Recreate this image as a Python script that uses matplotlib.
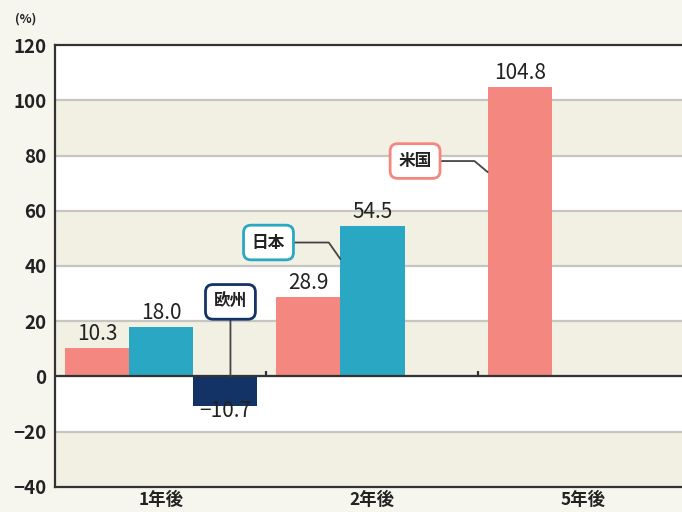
import numpy as np
import matplotlib
matplotlib.use("Agg")
import matplotlib.pyplot as plt

plt.rcParams['font.family'] = ['Noto Sans CJK JP', 'DejaVu Sans']
plt.rcParams['axes.unicode_minus'] = True

# data
groups = ['1年後', '2年後', '5年後']
series = ['米国', '日本', '欧州']
us = [10.3, 28.9, 104.8]
japan = [18.0, 54.5, np.nan]
europe = [-10.7, np.nan, np.nan]
yticks = [-40, -20, 0, 20, 40, 60, 80, 100, 120]

colors = ['#f4877f', '#2aa8c3', '#133366']
values = [us, japan, europe]

fig = plt.figure(figsize=(6.82, 5.12), dpi=100, facecolor='#f7f6ee')
ax = fig.add_axes([0.0806, 0.049, 0.93, 0.863])
ax.set_facecolor('white')

ymin, ymax = -40, 120
ax.set_ylim(ymin, ymax)
ax.set_xlim(0, 3 * len(groups))

# alternating bands
for k, (lo, hi) in enumerate(zip(yticks[:-1], yticks[1:])):
    if k % 2 == 0:
        ax.axhspan(lo, hi, color='#f2f0e3', zorder=0, lw=0)
for y in yticks[1:-1]:
    ax.axhline(y, color='#c6c6c0', lw=1.6, zorder=1)

bw = 0.91
off = 0.14
for j, vals in enumerate(values):
    for i, v in enumerate(vals):
        if np.isnan(v):
            continue
        x0 = 3 * i + off + bw * j
        ax.bar(x0, v, width=bw, align='edge', color=colors[j], zorder=2, lw=0)
        lab = ('%.1f' % v).replace('-', '\u2212')
        if v >= 0:
            ax.text(x0 + bw / 2, v + 1.0, lab, ha='center', va='bottom',
                    fontsize=15, color='#222222', zorder=5)
        else:
            ax.text(x0 + bw / 2, v + 2.0, lab, ha='center', va='top',
                    fontsize=15, color='#222222', zorder=5)

# zero line and group separators
ax.axhline(0, color='#333333', lw=1.6, zorder=4)
for i in range(1, len(groups)):
    ax.vlines(3 * i, 0, 2, color='#333333', lw=1.6, zorder=4)

# callouts
box = dict(boxstyle='round,pad=0.5,rounding_size=0.45', fc='white', lw=2)
line = dict(arrowstyle='-', color='#444444', lw=1.3, shrinkA=0, shrinkB=0)
ax.annotate('欧州', xy=(2.49, 0), xytext=(2.49, 27), ha='center', va='center',
            fontsize=12, fontweight='bold', color='#222222', zorder=6,
            bbox=dict(box, ec=colors[2]), arrowprops=line)
ax.annotate('日本', xy=(3 + off + bw, 42.5), xytext=(3.03, 48.5), ha='center', va='center',
            fontsize=12, fontweight='bold', color='#222222', zorder=6,
            bbox=dict(box, ec=colors[1]),
            arrowprops=dict(line, connectionstyle='angle,angleA=0,angleB=125,rad=0'))
ax.annotate('米国', xy=(6 + off, 74), xytext=(5.11, 78), ha='center', va='center',
            fontsize=12, fontweight='bold', color='#222222', zorder=6,
            bbox=dict(box, ec=colors[0]),
            arrowprops=dict(line, connectionstyle='angle,angleA=0,angleB=140,rad=0'))

# axes styling
ax.set_yticks(yticks)
ax.set_yticklabels([str(t).replace('-', '\u2212') for t in yticks],
                   fontsize=13.5, fontweight='bold', color='#222222')
ax.tick_params(axis='y', length=0, pad=6)
ax.set_xticks([3 * i + 1.5 for i in range(len(groups))])
ax.set_xticklabels(groups, fontsize=12.5, fontweight='bold', color='#222222')
ax.tick_params(axis='x', length=0, pad=3)
for s in ['left', 'bottom', 'top']:
    ax.spines[s].set_color('#333333')
    ax.spines[s].set_linewidth(1.6)
ax.spines['right'].set_visible(False)

fig.text(0.037, 0.962, '(%)', fontsize=9, fontweight='bold', color='#222222',
         ha='center', va='center')

fig.savefig('out.png', dpi=100, facecolor=fig.get_facecolor())
